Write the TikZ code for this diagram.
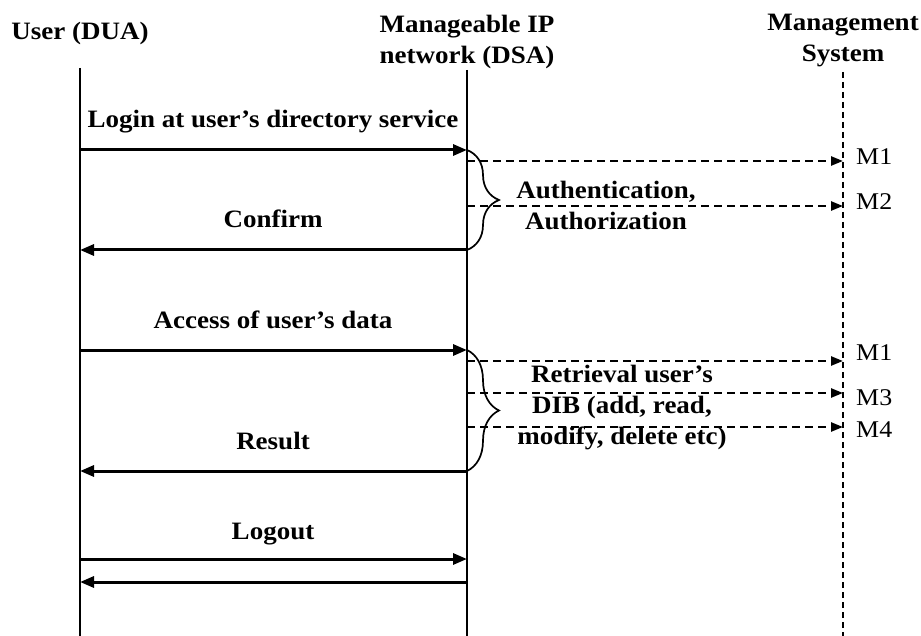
\documentclass[tikz,border=0pt]{standalone}
\usepackage{fontspec}
\setmainfont{Liberation Serif}[FakeStretch=1.08]
\usepackage{tikz}
\usetikzlibrary{arrows.meta,positioning,decorations.pathreplacing}

\begin{document}
\begin{tikzpicture}[
  x=1pt, y=-1pt,
  lbl/.style={font=\fontsize{25}{31}\selectfont\bfseries, align=center, inner sep=0pt},
  mlbl/.style={font=\fontsize{24}{28}\selectfont, inner sep=0pt, anchor=west},
  life/.style={line width=1.3pt},
  msg/.style={-{Triangle[length=14pt,width=11pt]}, line width=3pt},
  req/.style={-{Triangle[length=12pt,width=9pt]}, line width=2.4pt,
              dash pattern=on 8pt off 5pt},
  grp/.style={decorate, decoration={brace, amplitude=32pt}, line width=1.7pt}
]
  \useasboundingbox (0,0) rectangle (921,636);

  %% Headers
  \node[lbl, anchor=base] (dua) at (80,40) {User (DUA)};
  \node[lbl] (dsa) at (467,42) {Manageable IP\\network (DSA)};
  \node[lbl] (ms) at (843,41) {Management\\System};

  %% Lifelines
  \coordinate (dua-top) at (80,68);
  \coordinate (dua-end) at (80,636);
  \coordinate (dsa-top) at (467,70);
  \coordinate (dsa-end) at (467,636);
  \coordinate (ms-top) at (843,72);
  \coordinate (ms-end) at (843,636);
  \draw[life] (dua-top) -- (dua-end);
  \draw[life] (dsa-top) -- (dsa-end);
  \draw[line width=2pt, dash pattern=on 6pt off 4pt] (ms-top) -- (ms-end);

  %% Login
  \coordinate (u1) at (80,150);   \coordinate (n1) at (467,150);
  \coordinate (n2) at (467,250);  \coordinate (u2) at (80,250);
  \node[lbl, anchor=base] (login) at (273,128) {Login at user’s directory service};
  \node[lbl, anchor=base] (confirm) at (273,228) {Confirm};
  \draw[msg] (u1) -- (n1);
  \draw[msg] (n2) -- (u2);

  \coordinate (a1) at (467,161);  \coordinate (m1) at (843,161);
  \coordinate (a2) at (467,206);  \coordinate (m2) at (843,206);
  \draw[req] (a1) -- (m1);
  \draw[req] (a2) -- (m2);
  \node[mlbl] (lm1) at (856,157) {M1};
  \node[mlbl] (lm2) at (856,202) {M2};
  \draw[grp] (n1) -- (n2);
  \node[lbl] (auth) at (606,205) {Authentication,\\Authorization};

  %% Data access
  \coordinate (u3) at (80,350);   \coordinate (n3) at (467,350);
  \coordinate (n4) at (467,471);  \coordinate (u4) at (80,471);
  \node[lbl, anchor=base] (access) at (273,328) {Access of user’s data};
  \node[lbl, anchor=base] (result) at (273,449) {Result};
  \draw[msg] (u3) -- (n3);
  \draw[msg] (n4) -- (u4);

  \coordinate (b1) at (467,361);  \coordinate (k1) at (843,361);
  \coordinate (b2) at (467,393);  \coordinate (k2) at (843,393);
  \coordinate (b3) at (467,427);  \coordinate (k3) at (843,427);
  \draw[req] (b1) -- (k1);
  \draw[req] (b2) -- (k2);
  \draw[req] (b3) -- (k3);
  \node[mlbl] (lk1) at (856,353) {M1};
  \node[mlbl] (lk2) at (856,398) {M3};
  \node[mlbl] (lk3) at (856,430) {M4};
  \draw[grp] (n3) -- (n4);
  \node[lbl] (dib) at (622,408) {Retrieval user’s\\DIB (add, read,\\modify, delete etc)};

  %% Logout
  \coordinate (u5) at (80,559);   \coordinate (n5) at (467,559);
  \coordinate (n6) at (467,582);  \coordinate (u6) at (80,582);
  \node[lbl, anchor=base] (logout) at (273,539) {Logout};
  \draw[msg] (u5) -- (n5);
  \draw[msg] (n6) -- (u6);
\end{tikzpicture}
\end{document}
